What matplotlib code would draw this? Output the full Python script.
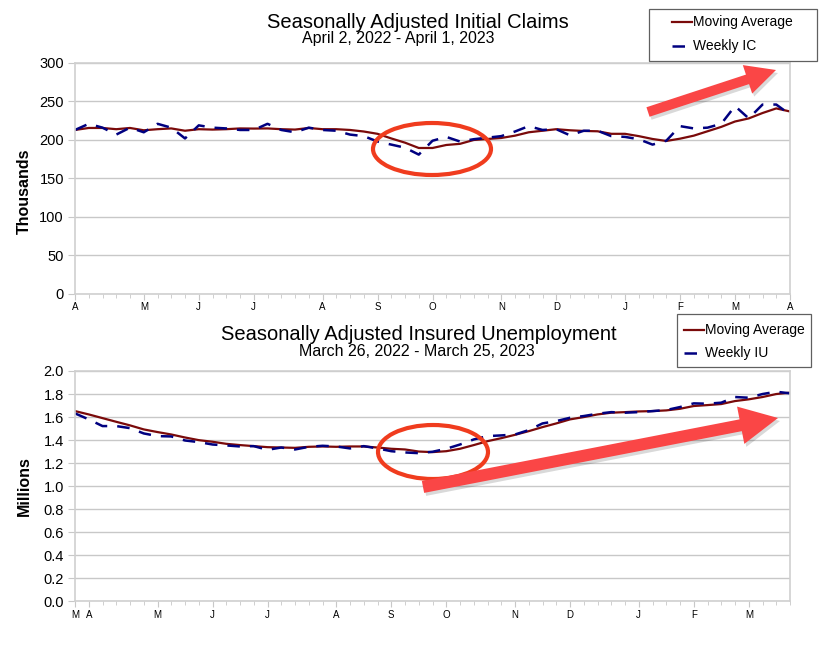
import matplotlib.pyplot as plt
import numpy as np
from matplotlib.patches import Ellipse, FancyArrow, Rectangle
from matplotlib.lines import Line2D
from matplotlib.ticker import FixedLocator, MultipleLocator

plt.rcParams['font.family'] = ['Liberation Sans', 'DejaVu Sans']

# initial claims, weeks from Apr 2 2022 to Apr 1 2023 (thousands)
ic_weekly = [213, 221, 216, 207, 216, 210, 221, 216, 202, 219, 216, 215, 213, 213,
             221, 213, 210, 216, 213, 212, 207, 205, 198, 194, 190, 181, 199, 204,
             198, 201, 203, 205, 211, 218, 213, 214, 206, 212, 212, 205, 204, 201,
             194, 199, 218, 215, 216, 221, 244, 228, 246, 246, 233]
ic_avg = [213, 215.6, 215.6, 214, 215.6, 212.6, 214, 215, 212, 214, 213.5, 214, 215,
          214.8, 215, 214, 213.5, 215.6, 214, 214, 213, 211, 208, 202, 196.5, 189.6,
          189.6, 193.5, 195, 200, 201.3, 202.6, 205.6, 210, 212, 214, 212.6, 211.7,
          211.3, 208, 208, 205, 201.3, 198.7, 201.7, 205.6, 211.3, 217, 224, 228,
          235, 241, 237]
ic_ticks = [0, 5, 9, 13, 18, 22, 26, 31, 35, 40, 44, 48, 52]
ic_labels = ['A', 'M', 'J', 'J', 'A', 'S', 'O', 'N', 'D', 'J', 'F', 'M', 'A']

# insured unemployment, weeks from Mar 26 2022 to Mar 25 2023 (millions)
iu_weekly = [1.632, 1.580, 1.522, 1.522, 1.504, 1.458, 1.435, 1.432, 1.397, 1.383,
             1.362, 1.354, 1.345, 1.348, 1.316, 1.336, 1.319, 1.342, 1.351, 1.345,
             1.328, 1.348, 1.328, 1.304, 1.293, 1.287, 1.299, 1.325, 1.362, 1.406,
             1.435, 1.441, 1.449, 1.487, 1.545, 1.565, 1.594, 1.609, 1.629, 1.643,
             1.638, 1.643, 1.652, 1.661, 1.687, 1.719, 1.716, 1.725, 1.774, 1.768,
             1.800, 1.820, 1.806]
iu_avg = [1.652, 1.623, 1.591, 1.559, 1.528, 1.493, 1.470, 1.449, 1.423, 1.400,
          1.386, 1.368, 1.357, 1.348, 1.339, 1.336, 1.333, 1.342, 1.345, 1.342,
          1.345, 1.345, 1.336, 1.325, 1.319, 1.301, 1.296, 1.304, 1.325, 1.357,
          1.391, 1.417, 1.446, 1.478, 1.513, 1.545, 1.580, 1.600, 1.623, 1.638,
          1.643, 1.649, 1.652, 1.658, 1.672, 1.696, 1.704, 1.713, 1.739, 1.754,
          1.774, 1.800, 1.812]
iu_ticks = [0, 1, 6, 10, 14, 19, 23, 27, 32, 36, 41, 45, 49]
iu_labels = ['M', 'A', 'M', 'J', 'J', 'A', 'S', 'O', 'N', 'D', 'J', 'F', 'M']

avg_color = '#7a0a0a'
wk_color = '#000080'
grid_color = '#c8c8c8'
W, H = 840, 658

fig = plt.figure(figsize=(8.4, 6.58), dpi=100)
ax1 = fig.add_axes([0.0893, 0.5532, 0.8512, 0.3511])
ax2 = fig.add_axes([0.0893, 0.0859, 0.8512, 0.3503])


def style_axes(ax, ticks, labels):
    ax.set_xlim(0, 52)
    ax.xaxis.set_major_locator(FixedLocator(ticks))
    ax.set_xticklabels(labels)
    ax.xaxis.set_minor_locator(MultipleLocator(1))
    ax.tick_params(axis='x', which='major', labelsize=7, length=4, color=grid_color, pad=2)
    ax.tick_params(axis='x', which='minor', length=3, color=grid_color)
    ax.tick_params(axis='y', labelsize=10.5, length=5, color=grid_color, pad=3)
    ax.yaxis.grid(True, color=grid_color, linewidth=1)
    ax.set_axisbelow(True)
    for s in ax.spines.values():
        s.set_color('#d0d0d0')
        s.set_linewidth(1.2)


x1 = np.arange(len(ic_weekly))
ax1.plot(x1, ic_avg, color=avg_color, lw=1.6)
ax1.plot(x1, ic_weekly, color=wk_color, lw=1.8, ls=(0, (5, 4)))
ax1.set_ylim(0, 300)
ax1.set_yticks(range(0, 301, 50))
style_axes(ax1, ic_ticks, ic_labels)
ax1.set_ylabel('Thousands', fontsize=11.5, fontweight='bold')
ax1.yaxis.set_label_coords(-0.060, 0.445)

x2 = np.arange(len(iu_weekly))
ax2.plot(x2, iu_avg, color=avg_color, lw=1.6)
ax2.plot(x2, iu_weekly, color=wk_color, lw=1.8, ls=(0, (5, 4)))
ax2.set_ylim(0, 2.0)
ax2.set_yticks(np.arange(0, 2.01, 0.2))
ax2.yaxis.set_major_formatter(plt.FormatStrFormatter('%.1f'))
style_axes(ax2, iu_ticks, iu_labels)
ax2.set_ylabel('Millions', fontsize=11.5, fontweight='bold')
ax2.yaxis.set_label_coords(-0.060, 0.5)

# titles
fig.text(417.5 / W, 1 - 27.5 / H, 'Seasonally Adjusted Initial Claims', ha='center', va='baseline', fontsize=14.5)
fig.text(398 / W, 1 - 43 / H, 'April 2, 2022 - April 1, 2023', ha='center', va='baseline', fontsize=11.5)
fig.text(419 / W, 1 - 340 / H, 'Seasonally Adjusted Insured Unemployment', ha='center', va='baseline', fontsize=14.5)
fig.text(416.5 / W, 1 - 356.5 / H, 'March 26, 2022 - March 25, 2023', ha='center', va='baseline', fontsize=11.5)


def draw_legend(box, rows, x_line, label_2):
    # box = (left, top, right, bottom) in pixels
    l, t, r, b = box
    fig.add_artist(Rectangle((l / W, 1 - b / H), (r - l) / W, (b - t) / H,
                             transform=fig.transFigure, fc='white', ec='#606060', lw=0.9))
    y_a, y_b = rows
    fig.add_artist(Line2D([x_line / W, (x_line + 20) / W], [1 - y_a / H] * 2,
                          transform=fig.transFigure, color=avg_color, lw=1.6))
    fig.add_artist(Line2D([x_line / W, (x_line + 20) / W], [1 - y_b / H] * 2,
                          transform=fig.transFigure, color=wk_color, lw=1.8,
                          ls=(0, (5, 4))))
    fig.text((x_line + 21) / W, 1 - y_a / H, 'Moving Average', ha='left', va='center', fontsize=10)
    fig.text((x_line + 21) / W, 1 - y_b / H, label_2, ha='left', va='center', fontsize=10)


draw_legend((649, 9, 817, 61), (22, 46), 672, 'Weekly IC')
draw_legend((677, 314, 811, 367), (330, 353), 684, 'Weekly IU')

# red annotations
red = '#f03c1e'
fig.patches.append(Ellipse((432 / W, 1 - 149 / H), 118 / W, 52 / H,
                           transform=fig.transFigure, fill=False, ec=red, lw=3))
fig.patches.append(Ellipse((433 / W, 1 - 452 / H), 110 / W, 54 / H,
                           transform=fig.transFigure, fill=False, ec=red, lw=3))

arr_col = '#fa4646'
for (xa, ya, xb, yb, w, hw, hl) in [(648, 112, 776, 70, 10, 30, 30),
                                    (423, 487, 778, 418, 12, 38, 38)]:
    sh = FancyArrow(xa / 100 + 0.02, (H - ya) / 100 - 0.03, (xb - xa) / 100, -(yb - ya) / 100,
                    width=w / 100, head_width=hw / 100, head_length=hl / 100,
                    length_includes_head=True, transform=fig.dpi_scale_trans,
                    color='#000000', alpha=0.15, ec='none')
    p = FancyArrow(xa / 100, (H - ya) / 100, (xb - xa) / 100, -(yb - ya) / 100,
                   width=w / 100, head_width=hw / 100, head_length=hl / 100,
                   length_includes_head=True, transform=fig.dpi_scale_trans,
                   color=arr_col, ec='none')
    fig.patches.append(sh)
    fig.patches.append(p)

fig.savefig('out.png', dpi=100)
